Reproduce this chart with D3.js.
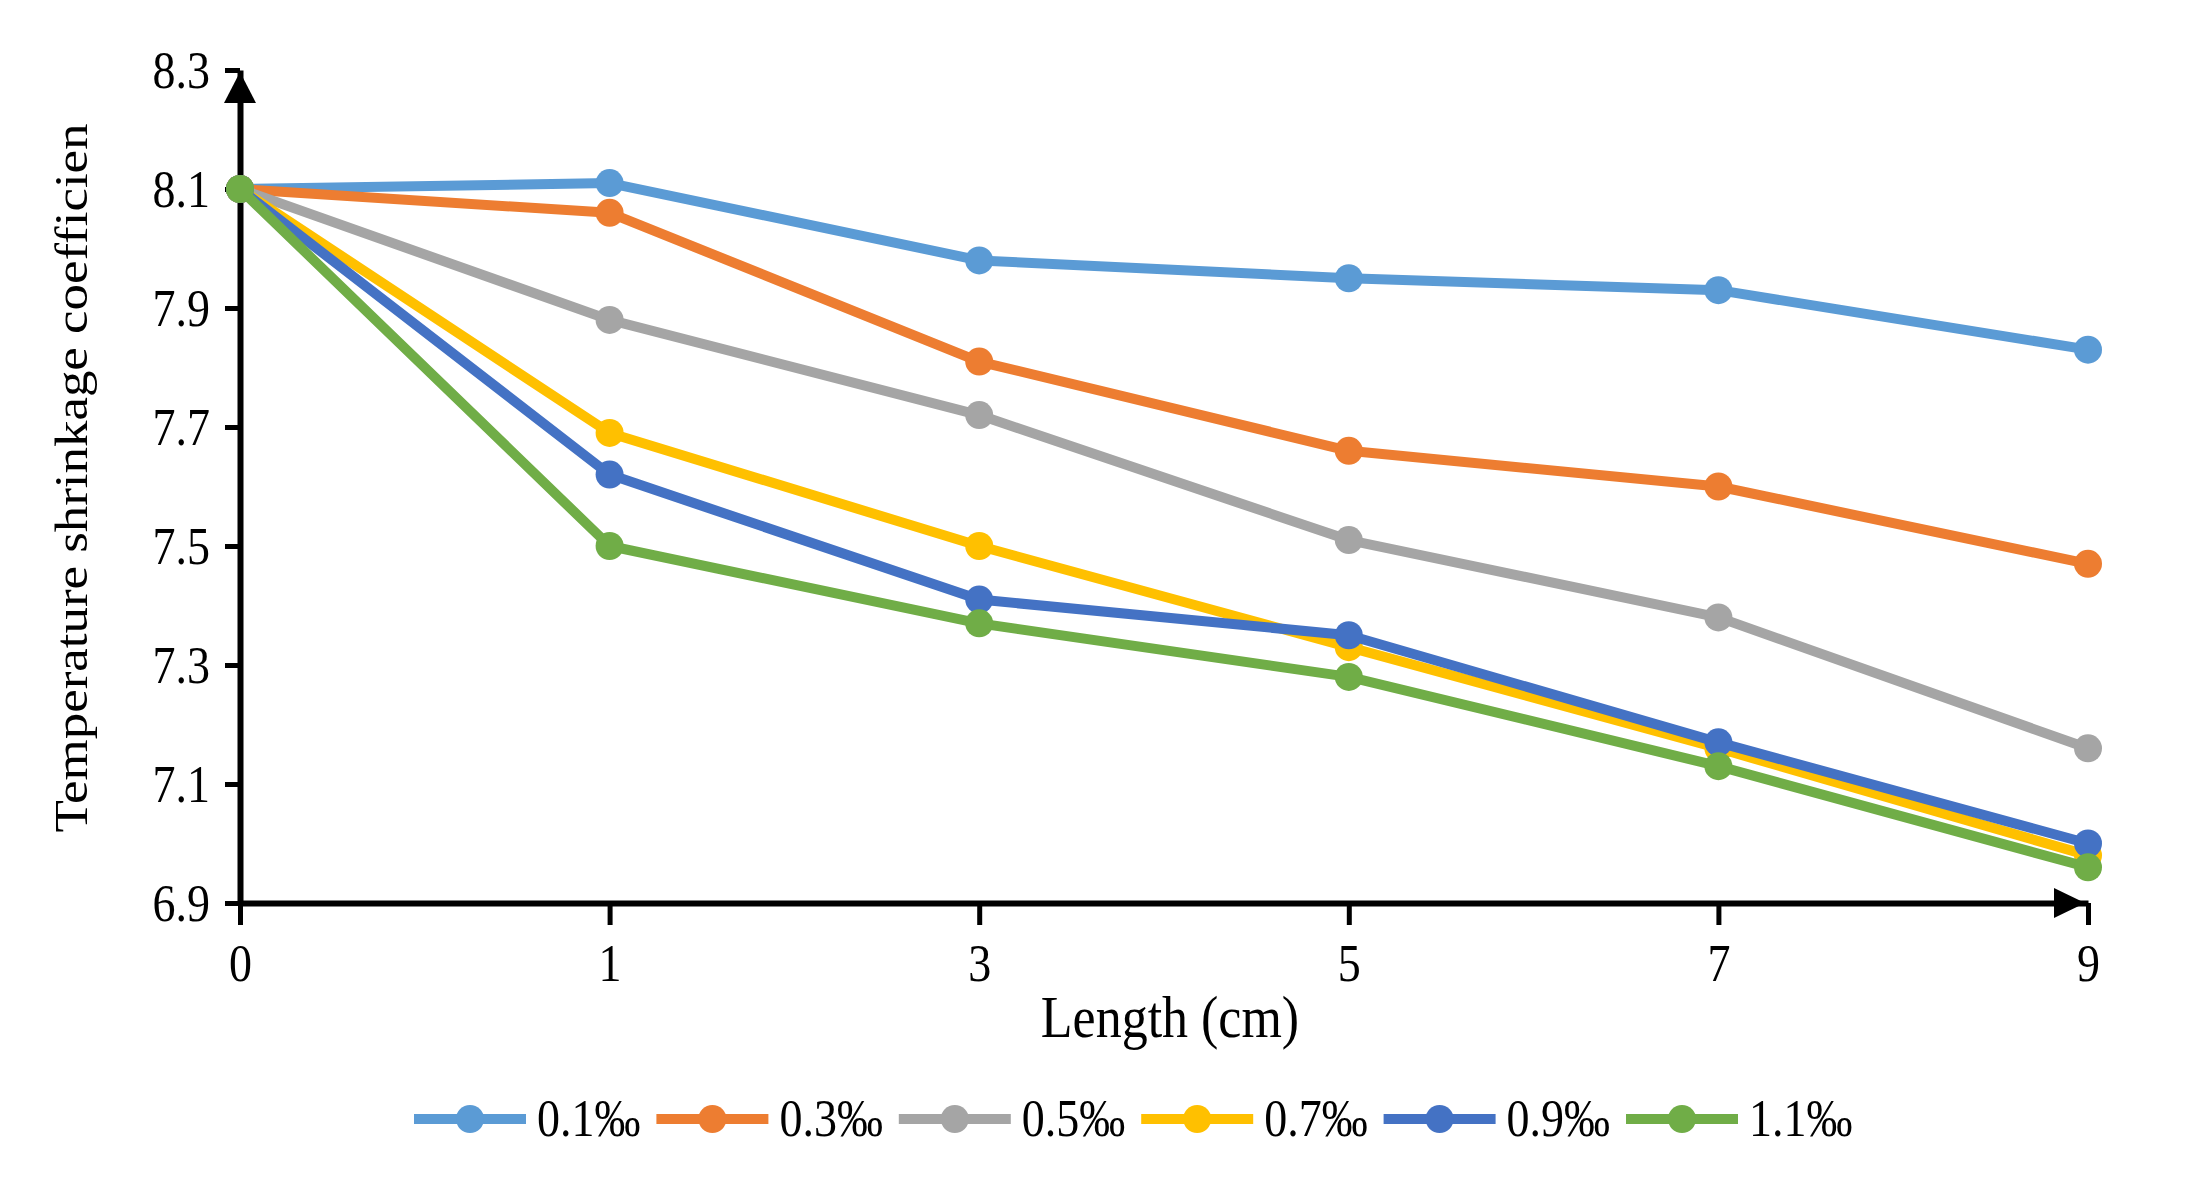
<!DOCTYPE html>
<html>
<head>
<meta charset="utf-8">
<script src="https://cdn.jsdelivr.net/npm/d3@7"></script>
<style>
  body { margin: 0; background: #fff; }
  text { font-family: "Liberation Serif", "Times New Roman", serif; fill: #000; }
</style>
</head>
<body>
<script>
// data
const categories = ["0", "1", "3", "5", "7", "9"];
const seriesNames = ["0.1‰", "0.3‰", "0.5‰", "0.7‰", "0.9‰", "1.1‰"];
const s01 = [8.10, 8.11, 7.98, 7.95, 7.93, 7.83];
const s03 = [8.10, 8.06, 7.81, 7.66, 7.60, 7.47];
const s05 = [8.10, 7.88, 7.72, 7.51, 7.38, 7.16];
const s07 = [8.10, 7.69, 7.50, 7.33, 7.16, 6.98];
const s09 = [8.10, 7.62, 7.41, 7.35, 7.17, 7.00];
const s11 = [8.10, 7.50, 7.37, 7.28, 7.13, 6.96];
const yTicks = [6.9, 7.1, 7.3, 7.5, 7.7, 7.9, 8.1, 8.3];
const colors = ["#5B9BD5", "#ED7D31", "#A5A5A5", "#FFC000", "#4472C4", "#70AD47"];

const allSeries = [s01, s03, s05, s07, s09, s11];

const width = 2195, height = 1187;
const stretch = 1.15;  // text in the picture is a bit taller than normal

const svg = d3.select("body").append("svg")
    .attr("width", width)
    .attr("height", height)
    .attr("viewBox", `0 0 ${width} ${height}`);

const x = d3.scalePoint().domain(categories).range([240, 2088]);
const y = d3.scaleLinear().domain([6.9, 8.3]).range([903, 70]);

// y axis
const yAxis = svg.append("g")
    .attr("transform", `translate(${x("0")},0)`)
    .call(d3.axisLeft(y).tickValues(yTicks).tickFormat(d3.format(".1f"))
        .tickSize(15).tickPadding(15).tickSizeOuter(0));
yAxis.select(".domain").attr("stroke", "#000").attr("stroke-width", 6);
yAxis.selectAll(".tick line").attr("stroke", "#000").attr("stroke-width", 5);
yAxis.selectAll(".tick text")
    .attr("font-size", 46)
    .attr("font-family", null)
    .attr("dy", "0.34em")
    .attr("transform", `scale(1,${stretch})`);

// x axis
const xAxis = svg.append("g")
    .attr("transform", `translate(0,${y(6.9)})`)
    .call(d3.axisBottom(x).tickSize(22).tickSizeOuter(0));
xAxis.select(".domain").attr("stroke", "#000").attr("stroke-width", 6);
xAxis.selectAll(".tick line").attr("stroke", "#000").attr("stroke-width", 5);
xAxis.selectAll(".tick text")
    .attr("font-size", 46)
    .attr("font-family", null)
    .attr("y", 0)
    .attr("dy", "1.47em")
    .attr("transform", `scale(1,${stretch})`);

// arrow heads
const yTop = y(8.3) + 2;
svg.append("path")
    .attr("d", `M${x("0")},${yTop} L${x("0") - 16},${yTop + 31} L${x("0") + 16},${yTop + 31} Z`)
    .attr("fill", "#000");
const xEnd = x("9") - 3;
svg.append("path")
    .attr("d", `M${xEnd},${y(6.9)} L${xEnd - 31},${y(6.9) - 15} L${xEnd - 31},${y(6.9) + 15} Z`)
    .attr("fill", "#000");

// lines and markers
const line = d3.line()
    .x((d, i) => x(categories[i]))
    .y(d => y(d));

allSeries.forEach((vals, k) => {
    svg.append("path")
        .datum(vals)
        .attr("d", line)
        .attr("fill", "none")
        .attr("stroke", colors[k])
        .attr("stroke-width", 10)
        .attr("stroke-linejoin", "round");
    svg.selectAll(null)
        .data(vals)
        .enter().append("circle")
        .attr("cx", (d, i) => x(categories[i]))
        .attr("cy", d => y(d))
        .attr("r", 14)
        .attr("fill", colors[k]);
});

// axis titles
svg.append("text")
    .attr("transform", `translate(1170,1037) scale(1,${stretch})`)
    .attr("text-anchor", "middle")
    .attr("font-size", 52)
    .text("Length (cm)");

svg.append("text")
    .attr("transform", `translate(87,478) rotate(-90) scale(${stretch},1)`)
    .attr("text-anchor", "middle")
    .attr("font-size", 46)
    .text("Temperature shrinkage coefficien");

// legend
const legendX = 414, legendStep = 242.4, legendY = 1119;
seriesNames.forEach((name, k) => {
    const gx = legendX + k * legendStep;
    const g = svg.append("g");
    g.append("line")
        .attr("x1", gx).attr("x2", gx + 112)
        .attr("y1", legendY).attr("y2", legendY)
        .attr("stroke", colors[k])
        .attr("stroke-width", 10);
    g.append("circle")
        .attr("cx", gx + 56).attr("cy", legendY)
        .attr("r", 14)
        .attr("fill", colors[k]);
    g.append("text")
        .attr("transform", `translate(${gx + 123},${legendY + 17}) scale(1,${stretch})`)
        .attr("font-size", 46)
        .text(name);
});
</script>
</body>
</html>
